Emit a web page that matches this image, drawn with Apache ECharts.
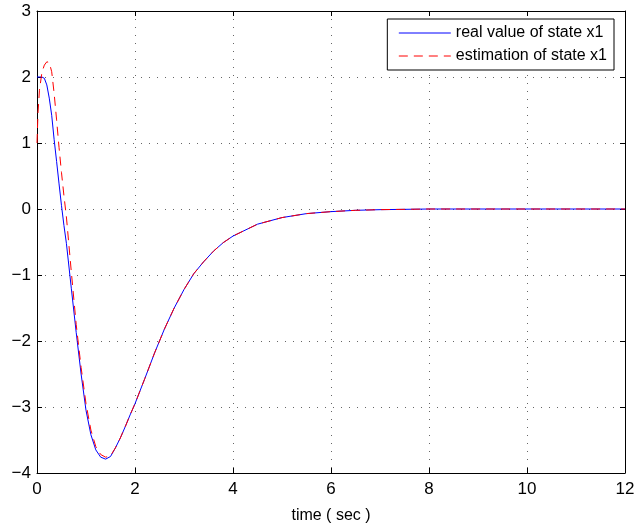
<!DOCTYPE html>
<html style="height: 100%">
<head>
<meta charset="utf-8">
<script type="text/javascript" src="https://cdn.jsdelivr.net/npm/echarts@6/dist/echarts.min.js"></script>
</head>
<body style="height: 100%; margin: 0; background: #fff">
<div id="container" style="width: 634px; height: 525px"></div>
<script type="text/javascript">
// time axis (sec), shared by both curves
var TIME = [0, 0.02, 0.05, 0.1, 0.15, 0.2, 0.25, 0.3, 0.35, 0.4, 0.45, 0.5, 0.55, 0.6,
    0.7, 0.8, 0.9, 1.0, 1.1, 1.2, 1.3, 1.4, 1.5, 1.6, 1.7, 1.8, 1.9, 2.0,
    2.2, 2.4, 2.6, 2.8, 3.0, 3.2, 3.4, 3.6, 3.8, 4.0, 4.5, 5.0, 5.5, 6.0, 6.5, 7.0,
    8.0, 9.0, 10.0, 11.0, 12.0];
// real value of state x1
var REAL_X1 = [2.0, 2.0, 2.0, 2.0, 1.98, 1.88, 1.68, 1.42, 1.05, 0.72, 0.38, 0.05, -0.25, -0.52,
    -1.2, -1.87, -2.5, -3.05, -3.42, -3.65, -3.76, -3.79, -3.75, -3.62, -3.47, -3.3, -3.12, -2.95,
    -2.57, -2.18, -1.82, -1.5, -1.22, -0.98, -0.8, -0.64, -0.51, -0.41, -0.23, -0.13, -0.07, -0.04, -0.02, -0.01,
    0, 0, 0, 0, 0];
// estimation of state x1
var EST_X1 = [1.0, 1.45, 1.8, 2.07, 2.18, 2.23, 2.22, 2.08, 1.75, 1.35, 0.93, 0.55, 0.2, -0.12,
    -0.95, -1.75, -2.4, -2.95, -3.35, -3.6, -3.72, -3.76, -3.74, -3.62, -3.47, -3.3, -3.12, -2.95,
    -2.57, -2.18, -1.82, -1.5, -1.22, -0.98, -0.8, -0.64, -0.51, -0.41, -0.23, -0.13, -0.07, -0.04, -0.02, -0.01,
    0, 0, 0, 0, 0];
var NAMES = ['real value of state x1', 'estimation of state x1'];

function pairs(x, y)
{
    var out = [];
    for (var i = 0; i < x.length; i++) {
        out.push([x[i], y[i]]);
    }
    return out;
}
function minus(v) {
    return String(v).replace('-', '\u2212');
}

var FONT = 'Liberation Sans';
var txt = {color: '#000', fontFamily: FONT, fontSize: 16};
var grid = {show: true, lineStyle: {color: '#666', width: 1, type: [1, 7]}};

// top / right axes only close the box (MATLAB style)
function boxAxis(pos, kind) {
    return {
        type: 'value', position: pos, min: kind == 'x' ? 0 : -4, max: kind == 'x' ? 12 : 3,
        interval: kind == 'x' ? 2 : 1,
        axisLine: {show: true, onZero: false, lineStyle: {color: '#000', width: 1}},
        axisTick: {show: true, inside: true, length: 5, lineStyle: {color: '#000'}},
        axisLabel: {show: false},
        splitLine: {show: false}
    };
}

var option = {
    backgroundColor: '#fff',
    animation: false,
    grid: {left: 37, right: 9, top: 11, bottom: 52, containLabel: false, outerBoundsMode: 'none'},
    legend: {
        data: NAMES,
        orient: 'vertical',
        right: 20, top: 19,
        padding: [6, 7, 6, 11],
        itemWidth: 52, itemHeight: 16, itemGap: 7,
        backgroundColor: '#fff',
        borderColor: '#000', borderWidth: 1, borderRadius: 0,
        itemStyle: {opacity: 0},
        lineStyle: {width: 1},
        textStyle: txt
    },
    xAxis: [{
        type: 'value', min: 0, max: 12, interval: 2,
        name: 'time ( sec )', nameLocation: 'middle', nameGap: 35,
        nameTextStyle: txt,
        axisLine: {show: true, onZero: false, lineStyle: {color: '#000', width: 1}},
        axisTick: {show: true, inside: true, length: 5, lineStyle: {color: '#000'}},
        axisLabel: {margin: 8, color: '#000', fontFamily: FONT, fontSize: 17, formatter: minus},
        splitLine: grid
    }, boxAxis('top', 'x')],
    yAxis: [{
        type: 'value', min: -4, max: 3, interval: 1,
        axisLine: {show: true, onZero: false, lineStyle: {color: '#000', width: 1}},
        axisTick: {show: true, inside: true, length: 5, lineStyle: {color: '#000'}},
        axisLabel: {margin: 6, color: '#000', fontFamily: FONT, fontSize: 17, formatter: minus},
        splitLine: grid
    }, boxAxis('right', 'y')],
    series: [{
        name: NAMES[0],
        type: 'line',
        symbol: 'none',
        color: '#0000ff',
        lineStyle: {color: '#0000ff', width: 1},
        data: pairs(TIME, REAL_X1)
    }, {
        name: NAMES[1],
        type: 'line',
        symbol: 'none',
        color: '#ff0000',
        lineStyle: {color: '#ff0000', width: 1, type: [9, 6]},
        data: pairs(TIME, EST_X1)
    }]
};

var myChart = echarts.init(document.getElementById('container'), null, {renderer: 'canvas'});
myChart.setOption(option);
</script>
</body>
</html>
